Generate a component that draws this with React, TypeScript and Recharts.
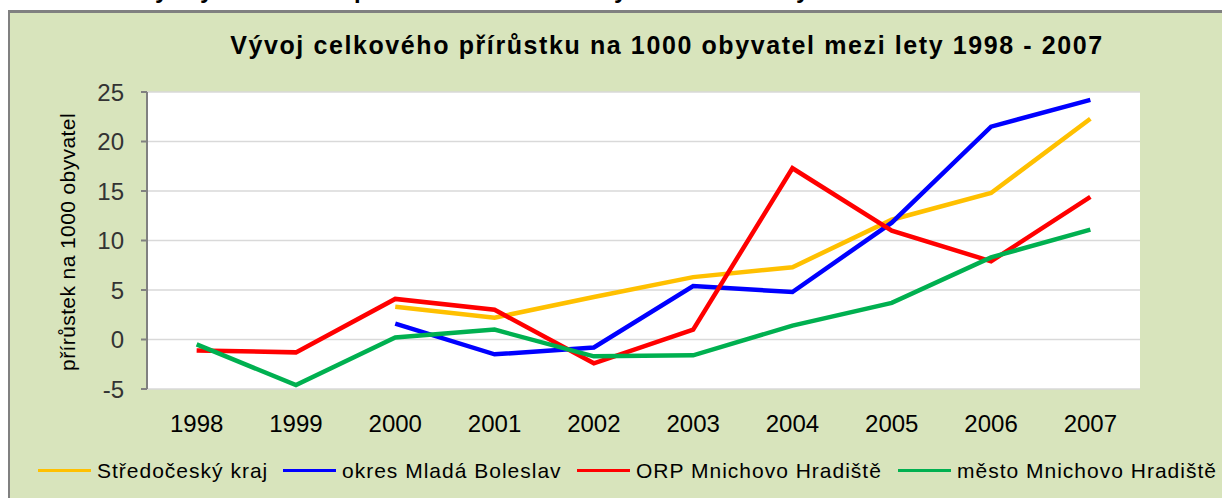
import React from 'react';
import { LineChart, Line, XAxis, YAxis, CartesianGrid } from 'recharts';

// roky a hodnoty přírůstku na 1000 obyvatel
const years = ['1998', '1999', '2000', '2001', '2002', '2003', '2004', '2005', '2006', '2007'];
const stredocesky = [null, null, 3.3, 2.2, 4.3, 6.3, 7.3, 12.1, 14.8, 22.3];
const mladaBoleslav = [null, null, 1.6, -1.5, -0.8, 5.4, 4.8, 11.8, 21.5, 24.2];
const orpMnichovo = [-1.1, -1.3, 4.1, 3.0, -2.4, 1.0, 17.3, 11.0, 7.9, 14.4];
const mestoMnichovo = [-0.5, -4.6, 0.2, 1.0, -1.7, -1.6, 1.4, 3.7, 8.3, 11.1];
const yTicks = [-5, 0, 5, 10, 15, 20, 25];
const boundaryTicks = [0, 1, 2, 3, 4, 5, 6, 7, 8, 9, 10];

const SERIES = [
  { key: 'stredocesky', name: 'Středočeský kraj', color: '#FFC000', legendX: 38 },
  { key: 'mladaBoleslav', name: 'okres Mladá Boleslav', color: '#0000FF', legendX: 283 },
  { key: 'orpMnichovo', name: 'ORP Mnichovo Hradiště', color: '#FF0000', legendX: 577 },
  { key: 'mestoMnichovo', name: 'město Mnichovo Hradiště', color: '#00B050', legendX: 898 },
];

const data = years.map((year, i) => ({
  year,
  stredocesky: stredocesky[i],
  mladaBoleslav: mladaBoleslav[i],
  orpMnichovo: orpMnichovo[i],
  mestoMnichovo: mestoMnichovo[i],
}));

const FONT = '"Liberation Sans", Arial, sans-serif';
const AXIS_GRAY = '#808080';
// polovina šířky kategorie, aby body ležely uprostřed mezi značkami
const HALF_CAT = 49.65;

// kousky textu z předchozího řádku, useknuté nahoře
const topBits = [
  { ch: 'y', x: 155 },
  { ch: 'y', x: 200 },
  { ch: 'p', x: 354 },
  { ch: 'y', x: 614 },
  { ch: 'y', x: 796 },
];

export default function App() {
  return (
    <div style={{ position: 'absolute', left: 0, top: 0, width: 1222, height: 498, overflow: 'hidden', background: '#fff', fontFamily: FONT }}>
      <div style={{ position: 'absolute', left: 0, top: 0, width: 1222, height: 10, overflow: 'hidden' }}>
        {topBits.map((b, i) => (
          <span key={i} style={{ position: 'absolute', left: b.x, top: -22, fontSize: 24, fontWeight: 'bold', lineHeight: 1, color: '#000' }}>{b.ch}</span>
        ))}
      </div>
      <div style={{ position: 'absolute', left: 8, top: 10, width: 1230, height: 500, background: '#D8E4BC', borderLeft: `2px solid ${AXIS_GRAY}`, borderTop: `3px solid ${AXIS_GRAY}` }} />

      <div style={{ position: 'absolute', left: 667, top: 33, transform: 'translateX(-50%)', fontSize: 25, letterSpacing: 1.6, fontWeight: 'bold', lineHeight: 1, whiteSpace: 'nowrap', color: '#000' }}>
        Vývoj celkového přírůstku na 1000 obyvatel mezi lety 1998 - 2007
      </div>

      <div style={{ position: 'absolute', left: 67, top: 242, transform: 'translate(-50%, -50%) rotate(-90deg)', fontSize: 21, letterSpacing: 0.4, lineHeight: 1, whiteSpace: 'nowrap', color: '#000' }}>
        přírůstek na 1000 obyvatel
      </div>

      <div style={{ position: 'absolute', left: 0, top: 0 }}>
        <LineChart width={1222} height={498} data={data} margin={{ top: 92, right: 82, bottom: 69, left: 0 }}>
          <CartesianGrid xAxisId="cat" vertical={false} fill="#fff" stroke="#D9D9D9" strokeWidth={1.5} />
          <XAxis
            xAxisId="bounds"
            type="number"
            domain={[0, 10]}
            ticks={boundaryTicks}
            allowDataOverflow
            height={0}
            tick={false}
            tickSize={6}
            axisLine={{ stroke: AXIS_GRAY, strokeWidth: 2 }}
            tickLine={{ stroke: AXIS_GRAY, strokeWidth: 2 }}
          />
          <XAxis
            xAxisId="cat"
            dataKey="year"
            height={40}
            padding={{ left: HALF_CAT, right: HALF_CAT }}
            axisLine={false}
            tickLine={false}
            tickMargin={20}
            interval={0}
            tick={{ fontSize: 24, fill: '#000', fontFamily: FONT }}
          />
          <YAxis
            width={147}
            domain={[-5, 25]}
            ticks={yTicks}
            interval={0}
            tickSize={6}
            tickMargin={17}
            axisLine={{ stroke: AXIS_GRAY, strokeWidth: 2 }}
            tickLine={{ stroke: AXIS_GRAY, strokeWidth: 2 }}
            tick={{ fontSize: 24, fill: '#333', fontFamily: FONT }}
          />
          {SERIES.map((s) => (
            <Line
              key={s.key}
              xAxisId="cat"
              type="linear"
              dataKey={s.key}
              name={s.name}
              stroke={s.color}
              strokeWidth={4.5}
              dot={false}
              activeDot={false}
              isAnimationActive={false}
            />
          ))}
        </LineChart>
      </div>

      {SERIES.map((s) => (
        <div key={s.key} style={{ position: 'absolute', left: s.legendX, top: 459, height: 22, display: 'flex', alignItems: 'center', whiteSpace: 'nowrap' }}>
          <span style={{ display: 'inline-block', width: 53, height: 3, background: s.color, marginRight: 6 }} />
          <span style={{ fontSize: 21, letterSpacing: 1, color: '#000', lineHeight: 1 }}>{s.name}</span>
        </div>
      ))}
    </div>
  );
}
